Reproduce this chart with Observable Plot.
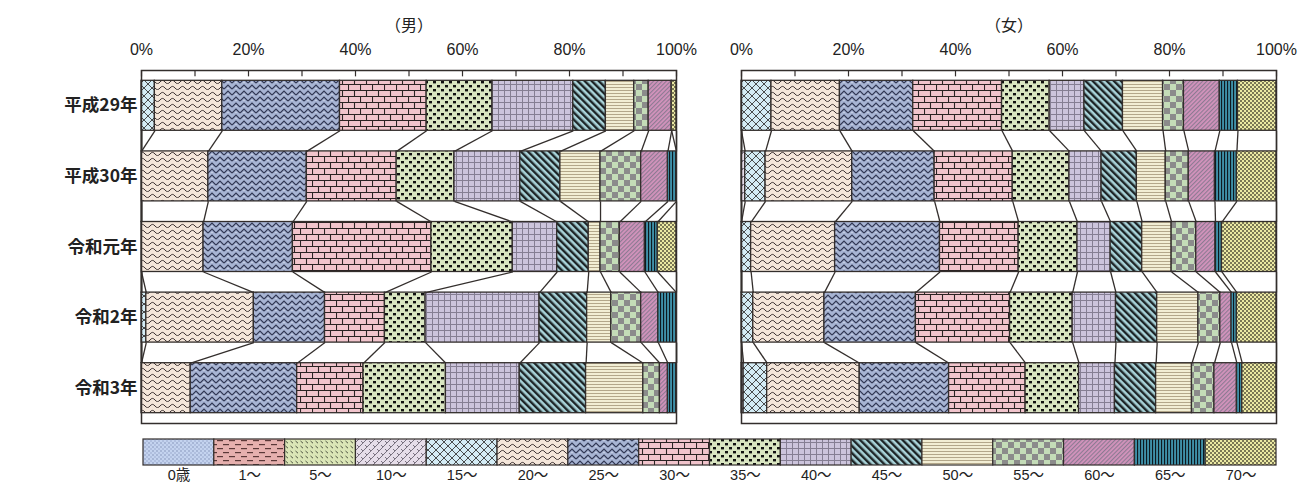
<!DOCTYPE html>
<html>
<head>
<meta charset="utf-8">
<script src="https://cdn.jsdelivr.net/npm/d3@7"></script>
<script src="https://cdn.jsdelivr.net/npm/@observablehq/plot@0.6"></script>
<style>
  html, body { margin: 0; padding: 0; background: #fff; }
  #chart svg, #legend svg { display: block; }
</style>
</head>
<body>
<svg width="0" height="0" style="position:absolute;left:0;top:0" aria-hidden="true">
  <defs>
    <pattern id="pat0" width="4" height="4" patternUnits="userSpaceOnUse"><rect width="4" height="4" fill="#c4d3ef"/><rect x="0.5" y="0.5" width="1" height="1" fill="#51618e"/><rect x="2.5" y="2.5" width="1" height="1" fill="#7786b0"/></pattern>
    <pattern id="pat1" width="12" height="8" patternUnits="userSpaceOnUse"><rect width="12" height="8" fill="#e6b0ae"/><rect x="1" y="2" width="6" height="1.2" fill="#5a3838"/><rect x="7" y="6" width="5" height="1.2" fill="#5a3838"/><rect x="0" y="6" width="1" height="1.2" fill="#5a3838"/></pattern>
    <pattern id="pat2" width="5" height="5" patternUnits="userSpaceOnUse"><rect width="5" height="5" fill="#dbe6b7"/><path d="M0.5 1 L3 3.2" stroke="#4c5240" stroke-width="1"/></pattern>
    <pattern id="pat3" width="8" height="8" patternUnits="userSpaceOnUse"><rect width="8" height="8" fill="#e6dde9"/><path d="M0 8 L8 0 M-2 2 L2 -2 M6 10 L10 6" stroke="#6d6473" stroke-width="0.9"/><path d="M1 3 L3 5 M5 -1 L7 1 M5 7 L7 9" stroke="#6d6473" stroke-width="0.9"/></pattern>
    <pattern id="pat4" width="8" height="8" patternUnits="userSpaceOnUse"><rect width="8" height="8" fill="#d4ecf5"/><path d="M0 0 L8 8 M8 0 L0 8" stroke="#3a3a3a" stroke-width="0.9"/></pattern>
    <pattern id="pat5" width="10" height="6" patternUnits="userSpaceOnUse"><rect width="10" height="6" fill="#f4e6da"/><path d="M0 4 Q2.5 0.8 5 4 T10 4" fill="none" stroke="#3a3030" stroke-width="1"/></pattern>
    <pattern id="pat6" width="8" height="6" patternUnits="userSpaceOnUse"><rect width="8" height="6" fill="#a7b4d3"/><path d="M0 5 L4 1 L8 5" fill="none" stroke="#2f3652" stroke-width="1.2"/><rect x="3.5" y="4" width="1" height="1" fill="#dfe4f0"/></pattern>
    <pattern id="pat7" width="12" height="12" patternUnits="userSpaceOnUse"><rect width="12" height="12" fill="#f1c4cc"/><path d="M0 0.5 H12 M0 6.5 H12 M0.5 0 V6 M6.5 6 V12" stroke="#2b2323" stroke-width="1.1"/></pattern>
    <pattern id="pat8" width="8" height="8" patternUnits="userSpaceOnUse"><rect width="8" height="8" fill="#d9e5c1"/><rect x="1" y="1" width="3" height="2.4" fill="#111"/><rect x="5" y="5" width="3" height="2.4" fill="#111"/></pattern>
    <pattern id="pat9" width="6" height="6" patternUnits="userSpaceOnUse"><rect width="6" height="6" fill="#ccc4dc"/><path d="M0 0.5 H6 M0.5 0 V6" stroke="#857e93" stroke-width="1"/></pattern>
    <pattern id="pat10" width="5" height="5" patternUnits="userSpaceOnUse" patternTransform="rotate(-45)"><rect width="5" height="5" fill="#a9d3d9"/><rect width="2.4" height="5" fill="#1d2426"/></pattern>
    <pattern id="pat11" width="4" height="3" patternUnits="userSpaceOnUse"><rect width="4" height="3" fill="#f2eed4"/><rect y="0" width="4" height="1" fill="#b3a78a"/></pattern>
    <pattern id="pat12" width="12" height="12" patternUnits="userSpaceOnUse"><rect width="12" height="12" fill="#c4dcb8"/><rect width="6" height="6" fill="#8b8b8b"/><rect x="6" y="6" width="6" height="6" fill="#8b8b8b"/></pattern>
    <pattern id="pat13" width="3" height="3" patternUnits="userSpaceOnUse" patternTransform="rotate(45)"><rect width="3" height="3" fill="#d293bc"/><rect width="1.1" height="3" fill="#8c7a92"/></pattern>
    <pattern id="pat14" width="3" height="3" patternUnits="userSpaceOnUse"><rect width="3" height="3" fill="#3f90a8"/><rect width="1.1" height="3" fill="#0e1a20"/></pattern>
    <pattern id="pat15" width="4" height="4" patternUnits="userSpaceOnUse"><rect width="4" height="4" fill="#ebe9a3"/><rect width="2" height="2" fill="#7b7855"/><rect x="2" y="2" width="2" height="2" fill="#7b7855"/></pattern>
  </defs>
</svg>
<div id="chart"></div>
<div id="legend"></div>
<script>
// ---- data (percent shares by age group) ----
const categories = ["0歳", "1～", "5～", "10～", "15～", "20～", "25～", "30～", "35～", "40～", "45～", "50～", "55～", "60～", "65～", "70～"];
const years = ["平成29年", "平成30年", "令和元年", "令和2年", "令和3年"];
const sexes = ["男", "女"];
const tickLabels = [0, 20, 40, 60, 80, 100];

const male = [
  [0, 0, 0, 0, 2.5, 12.6, 22.0, 16.2, 12.3, 15.1, 6.1, 5.3, 2.7, 4.3, 0, 0.9],
  [0, 0, 0, 0, 0, 12.5, 18.4, 16.8, 10.8, 12.3, 7.5, 7.5, 7.6, 5.0, 1.6, 0],
  [0, 0, 0, 0, 0, 11.6, 16.7, 25.9, 15.2, 8.3, 5.9, 2.2, 3.6, 4.7, 2.4, 3.5],
  [0, 0, 0, 0, 0.9, 20.1, 13.3, 11.2, 7.6, 21.3, 8.9, 4.5, 5.6, 3.2, 3.4, 0],
  [0, 0, 0, 0, 0, 9.2, 19.9, 12.4, 15.4, 13.8, 12.4, 10.7, 3.1, 1.5, 1.6, 0]
];
const female = [
  [0, 0, 0, 0, 5.6, 12.8, 13.7, 16.6, 8.9, 6.5, 7.2, 7.5, 3.9, 6.7, 3.4, 7.2],
  [0, 0, 0, 0.7, 3.8, 16.2, 15.4, 14.6, 10.6, 6.0, 6.6, 5.4, 4.3, 4.9, 4.1, 7.4],
  [0, 0, 0, 0, 1.8, 15.7, 19.6, 14.7, 11.0, 6.2, 5.9, 5.5, 4.6, 3.6, 1.2, 10.2],
  [0, 0, 0, 0, 2.2, 13.3, 17.1, 17.6, 11.7, 8.1, 7.7, 7.7, 4.1, 2.1, 1.0, 7.4],
  [0, 0, 0, 0.4, 4.4, 17.3, 16.7, 14.3, 10.0, 6.7, 7.7, 6.7, 4.2, 4.2, 1.0, 6.4]
];

// ---- derived tables ----
const GAP = 0.146; // half the empty space between bars, in row units
const bars = [];
const links = [];
sexes.forEach((sex, s) => {
  const vals = s === 0 ? male : female;
  const cums = vals.map(row => { let c = 0; return row.map(v => (c += v)); });
  vals.forEach((row, i) => {
    let c = 0;
    row.forEach((v, k) => {
      if (v > 0) bars.push({sex, yi: i, cat: categories[k], x1: c, x2: c + v});
      c += v;
    });
  });
  for (let i = 0; i < vals.length - 1; i++) {
    categories.forEach((cat, k) => {
      links.push({sex, x1: cums[i][k], y1: i + 1 - GAP, x2: cums[i + 1][k], y2: i + 1 + GAP});
    });
  }
});

const patternRange = categories.map((c, i) => `url(#pat${i})`);
const INK = "#332e2c";
const FONT = "'Liberation Sans', Arial, 'Noto Sans CJK JP', sans-serif";

const chart = Plot.plot({
  width: 1316,
  height: 430,
  marginTop: 70,
  marginBottom: 7,
  marginLeft: 141,
  marginRight: 40,
  style: {fontFamily: FONT, color: "#222", background: "#fff", overflow: "visible"},
  x: {domain: [0, 100]},
  y: {domain: [0, years.length], reverse: true},
  fx: {domain: sexes, paddingInner: 65 / 600, paddingOuter: 0, round: false, axis: null},
  color: {domain: categories, range: patternRange},
  marks: [
    Plot.rect(bars, {fx: "sex", x1: "x1", x2: "x2", y1: d => d.yi + GAP, y2: d => d.yi + 1 - GAP, fill: "cat", stroke: INK, strokeWidth: 1.3}),
    Plot.link(links, {fx: "sex", x1: "x1", y1: "y1", x2: "x2", y2: "y2", stroke: INK, strokeWidth: 1.3}),
    Plot.ruleX(d3.range(0, 101, 10), {y1: 0, y2: 0.09, stroke: INK, strokeWidth: 1.2}),
    Plot.frame({stroke: INK, strokeWidth: 1.5}),
    Plot.axisX({anchor: "top", ticks: tickLabels, tickFormat: d => d + "%", tickSize: 0, tickPadding: 16, fontSize: 16, fill: "#222"}),
    Plot.axisY({anchor: "left", ticks: years.map((y, i) => i + 0.5), tickFormat: t => years[Math.floor(t)], tickSize: 0, tickPadding: 4, fontSize: 17.5, fontWeight: "bold", fill: "#222", fontFamily: "'Noto Sans CJK JP', sans-serif"}),
    Plot.text(sexes, {fx: d => d, text: d => "（" + d + "）", frameAnchor: "top", dy: -51, fontSize: 16, fill: "#222", fontFamily: "'Noto Sans CJK JP', serif"})
  ]
});
document.getElementById("chart").appendChild(chart);

const legend = Plot.plot({
  width: 1316,
  height: 53,
  marginTop: 9,
  marginBottom: 18,
  marginLeft: 143,
  marginRight: 40,
  style: {fontFamily: FONT, color: "#222", background: "#fff"},
  x: {domain: categories, padding: 0, round: false},
  color: {domain: categories, range: patternRange},
  marks: [
    Plot.cell(categories, {x: d => d, fill: d => d, stroke: INK, strokeWidth: 1.2}),
    Plot.axisX({anchor: "bottom", tickSize: 0, tickPadding: 4, fontSize: 14.5, fill: "#222"})
  ]
});
document.getElementById("legend").appendChild(legend);
</script>
</body>
</html>
